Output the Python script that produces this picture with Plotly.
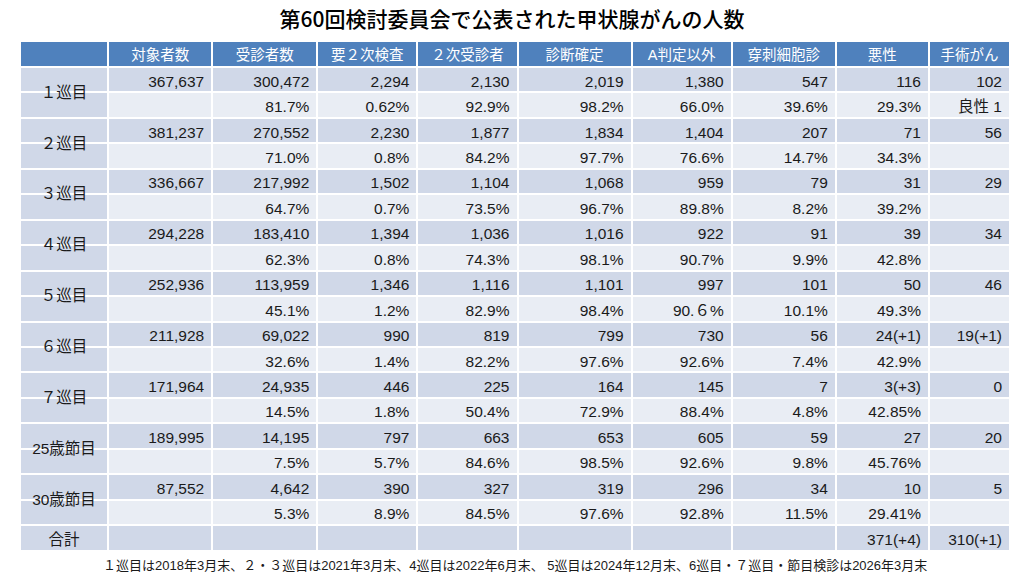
import plotly.graph_objects as go

### DATA ###

title = '第60回検討委員会で公表された甲状腺がんの人数'
note = ('１巡目は2018年3月末、２・３巡目は2021年3月末、4巡目は2022年6月末、 '
        '5巡目は2024年12月末、6巡目・７巡目・節目検診は2026年3月末')

headers = ['', '対象者数', '受診者数', '要２次検査', '２次受診者', '診断確定',
           'A判定以外', '穿刺細胞診', '悪性', '手術がん']
rounds = ['１巡目', '２巡目', '３巡目', '４巡目', '５巡目', '６巡目', '７巡目',
          '25歳節目', '30歳節目']
total_label = '合計'

# Counts (upper line of each round) and rates (lower line).
targets = ['367,637', '381,237', '336,667', '294,228', '252,936', '211,928',
           '171,964', '189,995', '87,552']
targets_pct = [''] * 9
examined = ['300,472', '270,552', '217,992', '183,410', '113,959', '69,022',
            '24,935', '14,195', '4,642']
examined_pct = ['81.7%', '71.0%', '64.7%', '62.3%', '45.1%', '32.6%', '14.5%',
                '7.5%', '5.3%']
need_second = ['2,294', '2,230', '1,502', '1,394', '1,346', '990', '446',
               '797', '390']
need_second_pct = ['0.62%', '0.8%', '0.7%', '0.8%', '1.2%', '1.4%', '1.8%',
                   '5.7%', '8.9%']
second_exam = ['2,130', '1,877', '1,104', '1,036', '1,116', '819', '225',
               '663', '327']
second_exam_pct = ['92.9%', '84.2%', '73.5%', '74.3%', '82.9%', '82.2%',
                   '50.4%', '84.6%', '84.5%']
diagnosed = ['2,019', '1,834', '1,068', '1,016', '1,101', '799', '164', '653',
             '319']
diagnosed_pct = ['98.2%', '97.7%', '96.7%', '98.1%', '98.4%', '97.6%',
                 '72.9%', '98.5%', '97.6%']
not_a = ['1,380', '1,404', '959', '922', '997', '730', '145', '605', '296']
not_a_pct = ['66.0%', '76.6%', '89.8%', '90.7%', '90.６%', '92.6%', '88.4%',
             '92.6%', '92.8%']
cytology = ['547', '207', '79', '91', '101', '56', '7', '59', '34']
cytology_pct = ['39.6%', '14.7%', '8.2%', '9.9%', '10.1%', '7.4%', '4.8%',
                '9.8%', '11.5%']
malignant = ['116', '71', '31', '39', '50', '24(+1)', '3(+3)', '27', '10']
malignant_pct = ['29.3%', '34.3%', '39.2%', '42.8%', '49.3%', '42.9%',
                 '42.85%', '45.76%', '29.41%']
surgery = ['102', '56', '29', '34', '46', '19(+1)', '0', '20', '5']
surgery_pct = ['良性\u00a01', '', '', '', '', '', '', '', '']

totals = ['', '', '', '', '', '', '', '371(+4)', '310(+1)']

### BUILD ###

HEAD_BLUE = '#4F81BD'
BAND_DARK = '#D0D8E8'
BAND_LIGHT = '#E9EDF4'
FONT = 'Liberation Sans, Noto Sans CJK JP, sans-serif'

pairs = [(targets, targets_pct), (examined, examined_pct),
         (need_second, need_second_pct), (second_exam, second_exam_pct),
         (diagnosed, diagnosed_pct), (not_a, not_a_pct),
         (cytology, cytology_pct), (malignant, malignant_pct),
         (surgery, surgery_pct)]


def interleave(top, bottom, last):
    out = []
    for t, b in zip(top, bottom):
        out += [t, b]
    return out + [last]


label_col = [''] * (2 * len(rounds)) + [total_label]
columns = [label_col] + [interleave(t, b, tot)
                         for (t, b), tot in zip(pairs, totals)]
row_fill = [BAND_DARK, BAND_LIGHT] * len(rounds) + [BAND_DARK]
first_fill = [BAND_DARK] * len(row_fill)

widths = [88, 104, 105, 100, 100, 114, 100, 104, 93, 81]
ROW_H = 25.45
HEAD_H = 26

fig = go.Figure()
fig.add_trace(go.Table(
    columnwidth=widths,
    header=dict(values=headers, fill_color=HEAD_BLUE, height=HEAD_H,
                align='center', line=dict(color='white', width=2),
                font=dict(family=FONT, size=14.5, color='white')),
    cells=dict(values=columns, height=ROW_H,
               fill_color=[first_fill] + [row_fill] * 9,
               align=['center'] + ['right'] * 9,
               line=dict(color='white', width=2),
               font=dict(family=FONT, size=15.5, color='#1a1a1a')),
))
# Round labels span two lines each, drawn as a see-through overlay.
fig.add_trace(go.Table(
    domain=dict(x=[0, widths[0] / sum(widths)], y=[0, 1]),
    header=dict(values=[''], fill_color='rgba(0,0,0,0)', height=HEAD_H + 11,
                line=dict(color='rgba(0,0,0,0)', width=0)),
    cells=dict(values=[rounds], height=2 * ROW_H, align='center',
               fill_color='rgba(0,0,0,0)',
               line=dict(color='rgba(0,0,0,0)', width=0),
               font=dict(family=FONT, size=15.5, color='#1a1a1a')),
))

fig.update_layout(
    width=1024, height=576,
    margin=dict(l=20, r=14, t=41, b=0),
    paper_bgcolor='white',
    title=dict(text=title, x=0.5, xanchor='center', y=1 - 20 / 576,
               yanchor='middle',
               font=dict(family='Noto Sans CJK JP', size=21, color='black',
                         weight=500)),
    annotations=[dict(text=note, xref='paper', yref='paper', x=0.5,
                      y=(576 - 41 - 524) / 535, xanchor='center',
                      yanchor='middle', showarrow=False,
                      font=dict(family=FONT, size=13, color='#1a1a1a'))],
)

# Drop the browser's default page margin so the figure sits at 0,0.
fig.write_html('out.html', config={'displayModeBar': False},
               post_script="document.body.style.margin='0';")
